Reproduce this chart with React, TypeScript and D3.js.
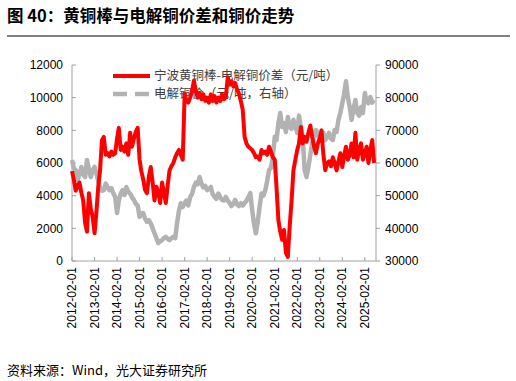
import React from "react";
import * as d3 from "d3";

const startYear = 2012;
const startMonth = 1; // Feb (0-based)

const spreadValues: number[] = [
  5500, 5000, 4300, 4600, 4800, 4200, 3700, 2300, 1800, 4150,
  3200, 2700, 1700, 2900, 4500, 5550, 7400, 7600, 6500, 6600,
  6400, 6700, 6500, 6600, 7500, 8150, 6800, 7000, 6700, 7200,
  6500, 7850, 7000, 7500, 7900, 8150, 6200, 5500, 5000, 4350,
  4150, 5150, 5750, 4800, 3700, 4550, 4200, 3550, 4800, 4200,
  3550, 4600, 5550, 5800, 6000, 6350, 6600, 6800, 6500, 6200,
  10250, 9800, 9700, 10000, 10400, 11050, 10400, 10000, 10300, 9900,
  10200, 9800, 10000, 9700, 10200, 9800, 10100, 9700, 10000, 9800,
  10200, 9900, 10050, 11250, 10800, 11000, 10700, 10900, 10500, 10250,
  9800, 9250, 7600, 7200, 7000, 6900, 6800, 6600, 6350, 6400,
  6200, 6800, 6600, 6700, 6500, 7000, 6700, 6350, 6200, 4550,
  2500, 1800, 1300, 1900, 500, 250, 2100, 3700, 5550, 6200,
  6800, 7200, 8200, 7200, 7600, 7300, 7850, 8300, 7600, 7000,
  6600, 7200, 7500, 8000, 6500, 5550, 6000, 6100, 5800, 6350,
  6000, 5550, 6100, 6600, 5750, 6400, 7000, 6200, 6500, 7200,
  6350, 7850, 6200, 6800, 7200, 6200, 6600, 7000, 6000, 6800,
  7400, 6000,
];

const copperValues: number[] = [
  60900, 58500, 57800, 54800, 56500, 58800, 56500, 55700, 60900, 58000,
  55700, 57800, 58800, 56900, 54500, 52650, 51500, 51700, 53700, 52500,
  51700, 52300, 50800, 49600, 44700, 48500, 50650, 51700, 50200, 52650,
  51200, 50650, 49500, 48700, 47500, 47000, 43500, 44500, 44700, 43000,
  42000, 42500, 41500, 40000, 38500, 37000, 35500, 36000, 36400, 37000,
  37400, 36800, 36400, 37000, 37400, 37000, 41600, 45500, 47700, 46500,
  47700, 48500, 47000, 49600, 50500, 52650, 54000, 53500, 55700, 53700,
  52500, 53000, 51700, 52000, 52650, 50500, 49600, 49000, 50650, 49500,
  48700, 48500, 49600, 48500, 47700, 46800, 47500, 48700, 47300, 46800,
  47700, 47000, 47700, 48500, 49500, 50800, 45600, 41500, 38500, 42000,
  46700, 50650, 50000, 51700, 54500, 57850, 58500, 61800, 68000, 67000,
  72200, 75300, 71000, 72200, 69500, 74100, 71000, 70500, 73200, 71500,
  69200, 74500, 71000, 67500, 57850, 55700, 58800, 62500, 66100, 68000,
  70100, 69200, 67000, 68500, 69200, 67000, 68000, 69200, 67500, 67000,
  70100, 69500, 73200, 75300, 78300, 81000, 85000, 80200, 77100, 73200,
  76500, 79300, 75300, 74500, 77100, 75300, 81400, 79000, 78300, 80200,
  78500, 79300,
];

const leftTicks = [0, 2000, 4000, 6000, 8000, 10000, 12000];
const rightTicks = [30000, 40000, 50000, 60000, 70000, 80000, 90000];
const tickYears = d3.range(2012, 2026);

const seriesNames = ["宁波黄铜棒-电解铜价差（元/吨）", "电解铜价（元/吨，右轴）"];
const titleText = "图 40：黄铜棒与电解铜价差和铜价走势";
const sourceText = "资料来源：Wind，光大证券研究所";

const W = 516;
const H = 381;
const plot = { left: 72, right: 376, top: 65, bottom: 261 };

const monthDate = (i: number) => new Date(startYear, startMonth + i, 1);

export default function App() {
  const x = d3
    .scaleTime()
    .domain([monthDate(0), monthDate(162)])
    .range([plot.left, plot.right]);
  const yL = d3.scaleLinear().domain([0, 12000]).range([plot.bottom, plot.top]);
  const yR = d3.scaleLinear().domain([30000, 90000]).range([plot.bottom, plot.top]);

  const lineL = d3
    .line<number>()
    .x((_, i) => x(monthDate(i)))
    .y((d) => yL(d))
    .curve(d3.curveLinear);
  const lineR = d3
    .line<number>()
    .x((_, i) => x(monthDate(i)))
    .y((d) => yR(d))
    .curve(d3.curveLinear);

  const axisColor = "#a0a0a0";
  const numFont = "'Liberation Sans', Arial, sans-serif";
  const cjkFont = "'Noto Sans CJK SC', 'Noto Sans', sans-serif";

  return (
    <svg
      width={W}
      height={H}
      style={{ position: "absolute", left: 0, top: 0, background: "#fff" }}
    >
      <text
        x={7}
        y={22}
        fontFamily={cjkFont}
        fontWeight={700}
        fontSize={16.5}
        fill="#000"
      >
        {titleText}
      </text>
      <line x1={7} x2={510} y1={36} y2={36} stroke="#808080" strokeWidth={2} />

      {/* left axis */}
      <line x1={plot.left} x2={plot.left} y1={plot.top} y2={plot.bottom} stroke={axisColor} />
      {leftTicks.map((t) => (
        <g key={"l" + t}>
          <line x1={plot.left} x2={plot.left + 4} y1={yL(t)} y2={yL(t)} stroke={axisColor} />
          <text
            x={plot.left - 9}
            y={yL(t)}
            dy="0.35em"
            textAnchor="end"
            fontFamily={numFont}
            fontSize={12}
            fill="#000"
          >
            {t}
          </text>
        </g>
      ))}

      {/* right axis */}
      <line x1={plot.right} x2={plot.right} y1={plot.top} y2={plot.bottom} stroke={axisColor} />
      {rightTicks.map((t) => (
        <g key={"r" + t}>
          <line x1={plot.right} x2={plot.right + 4} y1={yR(t)} y2={yR(t)} stroke={axisColor} />
          <text
            x={plot.right + 9}
            y={yR(t)}
            dy="0.35em"
            textAnchor="start"
            fontFamily={numFont}
            fontSize={12}
            fill="#000"
          >
            {t}
          </text>
        </g>
      ))}

      {/* x axis */}
      <line x1={plot.left} x2={plot.right} y1={plot.bottom} y2={plot.bottom} stroke={axisColor} />
      {tickYears.map((yr) => {
        const px = x(new Date(yr, 1, 1));
        return (
          <g key={"x" + yr}>
            <line x1={px} x2={px} y1={plot.bottom} y2={plot.bottom - 4} stroke={axisColor} />
            <text
              transform={`translate(${px},${plot.bottom + 6}) rotate(-90)`}
              dy="0.35em"
              textAnchor="end"
              fontFamily={numFont}
              fontSize={12}
              fill="#000"
            >
              {`${yr}-02-01`}
            </text>
          </g>
        );
      })}

      {/* legend */}
      <line x1={113} x2={150} y1={76} y2={76} stroke="#ff0000" strokeWidth={4} />
      <text x={154} y={76} dy="0.35em" fontFamily={cjkFont} fontSize={12.5} fill="#404040">
        {seriesNames[0]}
      </text>
      <line
        x1={113}
        x2={150}
        y1={94}
        y2={94}
        stroke="#b2b2b2"
        strokeWidth={4.5}
        strokeDasharray="14,8"
      />
      <text x={154} y={94} dy="0.35em" fontFamily={cjkFont} fontSize={12.5} fill="#404040">
        {seriesNames[1]}
      </text>

      {/* series */}
      <path
        d={lineR(copperValues) || ""}
        fill="none"
        stroke="#b2b2b2"
        strokeWidth={4.5}
        strokeLinejoin="round"
      />
      <path
        d={lineL(spreadValues) || ""}
        fill="none"
        stroke="#ff0000"
        strokeWidth={4}
        strokeLinejoin="round"
      />

      <text x={7} y={375} fontFamily={cjkFont} fontSize={13} fill="#000">
        {sourceText}
      </text>
    </svg>
  );
}
